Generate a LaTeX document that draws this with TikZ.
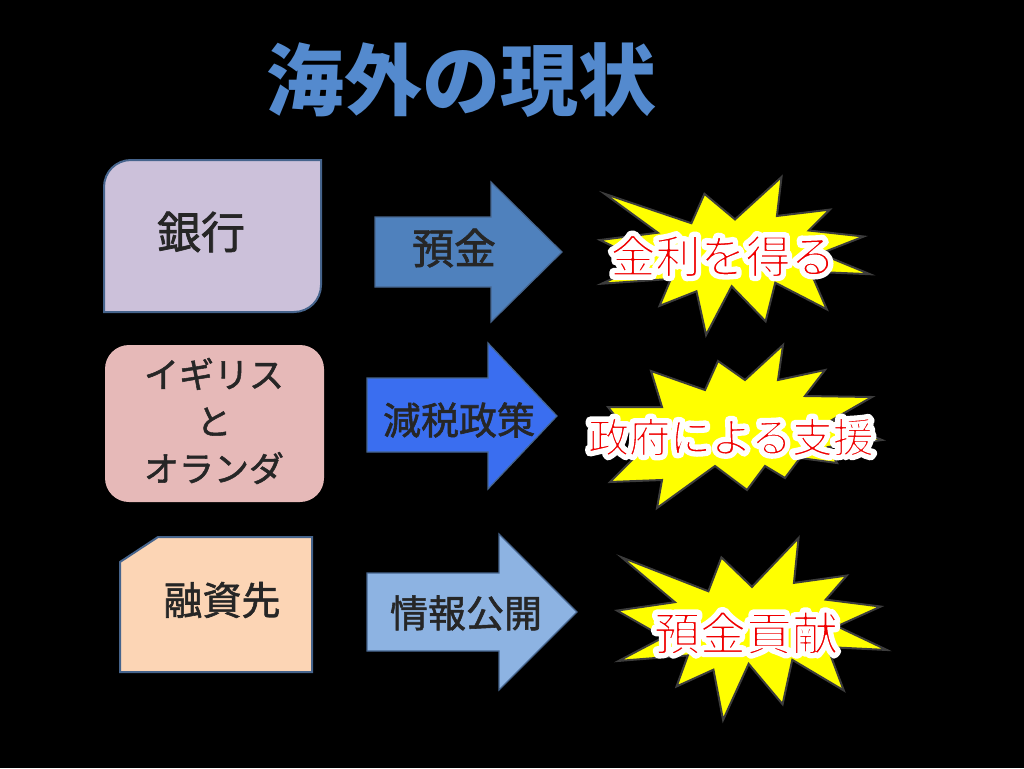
\documentclass[tikz,border=0pt]{standalone}
\usepackage{fontspec}
\setmainfont{Noto Sans CJK JP}
\newfontfamily\jp{Noto Sans CJK JP}
\newfontfamily\jpm[FakeBold=1.5]{Noto Sans CJK JP}
\definecolor{bgblack}{RGB}{0,0,0}
\definecolor{titleblue}{RGB}{84,138,206}
\definecolor{lavender}{RGB}{204,193,218}
\definecolor{pinkbox}{RGB}{230,185,184}
\definecolor{peach}{RGB}{252,213,181}
\definecolor{edgeblue}{RGB}{70,100,140}
\definecolor{arrowA}{RGB}{79,129,189}
\definecolor{arrowB}{RGB}{58,110,240}
\definecolor{arrowC}{RGB}{141,179,226}
\definecolor{starfill}{RGB}{255,255,0}
\definecolor{staredge}{RGB}{60,60,60}
\definecolor{darktext}{RGB}{38,38,38}
\definecolor{redtext}{RGB}{240,0,0}
\newcommand{\glowtext}[1]{\special{pdf:literal direct 2 Tr 1 j 9 w}#1\special{pdf:literal direct 0 Tr 1 w}}
\newcommand{\thinred}[1]{\special{pdf:literal direct 1 1 1 RG 2 Tr 1 j 1.6 w}#1\special{pdf:literal direct 0 Tr 1 w}}
\tikzset{
  boxedge/.style={draw=edgeblue, line width=2pt},
  arrowshape/.style={draw=edgeblue, line width=1.2pt},
  starshape/.style={fill=starfill, draw=staredge, line width=2pt, line join=miter},
  darklabel/.style={inner sep=0pt, text=darktext, font=\jpm\fontsize{40}{46}\selectfont},
  glowlabel/.style={inner sep=0pt, text=white, font=\jp\fontsize{#1}{#1}\selectfont},
  redlabel/.style={inner sep=0pt, text=redtext, font=\jp\fontsize{#1}{#1}\selectfont},
}
\begin{document}
\begin{tikzpicture}[x=1pt,y=-1pt]
\fill[bgblack] (0,0) rectangle (1024,768);
\useasboundingbox (0,0) rectangle (1024,768);

% title
\node[inner sep=0pt, text=titleblue, font=\jp\bfseries\fontsize{78}{78}\selectfont] (title) at (461,80) {海外の現状};

% left boxes
\filldraw[fill=lavender, boxedge] (104,187) .. controls (104,172) and (116,160) .. (131,160) -- (321,160) -- (321,285) .. controls (321,300) and (309,312) .. (294,312) -- (104,312) -- cycle;
\node[darklabel, font=\jpm\fontsize{44}{50}\selectfont] (bank) at (201,232) {銀行};

\fill[pinkbox, rounded corners=24pt] (105,345) rectangle (324,502);
\node[darklabel, font=\jpm\fontsize{35}{47}\selectfont, align=center] (country) at (214,421) {イギリス\\と\\オランダ};

\filldraw[fill=peach, boxedge] (120,562) -- (158,537) -- (312,537) -- (312,672) -- (120,672) -- cycle;
\node[darklabel, font=\jpm\fontsize{39}{45}\selectfont] (borrower) at (222,600) {融資先};

% arrows
\filldraw[fill=arrowA, arrowshape] (375,217) -- (491,217) -- (491,182) -- (562,252) -- (491,322) -- (491,287) -- (375,287) -- cycle;
\node[darklabel, font=\jpm\fontsize{42}{48}\selectfont] (deposit) at (454,248) {預金};

\filldraw[fill=arrowB, arrowshape] (367,378) -- (488,378) -- (488,343) -- (557,416) -- (488,489) -- (488,452) -- (367,452) -- cycle;
\node[darklabel, font=\jpm\fontsize{38}{44}\selectfont] (tax) at (459,420) {減税政策};

\filldraw[fill=arrowC, arrowshape] (367,573) -- (499,573) -- (499,534) -- (577,612) -- (499,690) -- (499,651) -- (367,651) -- cycle;
\node[darklabel, font=\jpm\fontsize{38}{44}\selectfont] (info) at (466,613) {情報公開};

% explosion 1
\begin{scope}[shift={(600,177)}, x=270pt, y=-158pt]
\filldraw[starshape] (0.5,0.2685) -- (0.6723,0) -- (0.6553,0.2465) -- (0.8509,0.2064) -- (0.7732,0.3386) -- (0.9767,0.3767) -- (0.8151,0.4850) -- (1,0.6153) -- (0.7795,0.5992) -- (0.8400,0.8377) -- (0.6491,0.6693) -- (0.6133,0.9137) -- (0.4876,0.6914) -- (0.3928,1) -- (0.3572,0.7235) -- (0.2205,0.8156) -- (0.2624,0.6452) -- (0.0063,0.6753) -- (0.1723,0.5451) -- (0,0.3988) -- (0.2142,0.3526) -- (0.0171,0.1063) -- (0.3385,0.2926) -- (0.3867,0.1063) -- cycle;
\end{scope}
% explosion 2
\filldraw[starshape] (651,371) -- (705,390) -- (718,361) -- (745,380) -- (783,345) -- (778,380) -- (825,370) -- (805,396) -- (872,397) -- (832,420) -- (882,440) -- (828,447) -- (837,463) -- (800,458) -- (785,478) -- (765,466) -- (747,490) -- (715,466) -- (657,508) -- (662,480) -- (610,482) -- (642,450) -- (608,407) -- (662,407) -- cycle;
% explosion 3
\begin{scope}[shift={(617,538)}, x=270pt, y=-182pt]
\filldraw[starshape] (0.5,0.2685) -- (0.6723,0) -- (0.6553,0.2465) -- (0.8509,0.2064) -- (0.7732,0.3386) -- (0.9767,0.3767) -- (0.8151,0.4850) -- (1,0.6153) -- (0.7795,0.5992) -- (0.8400,0.8377) -- (0.6491,0.6693) -- (0.6133,0.9137) -- (0.4876,0.6914) -- (0.3928,1) -- (0.3572,0.7235) -- (0.2205,0.8156) -- (0.2624,0.6452) -- (0.0063,0.6753) -- (0.1723,0.5451) -- (0,0.3988) -- (0.2142,0.3526) -- (0.0171,0.1063) -- (0.3385,0.2926) -- (0.3867,0.1063) -- cycle;
\end{scope}

% star labels
\node[glowlabel=45] (interestglow) at (723,256) {\glowtext{金利を得る}};
\node[redlabel=45] (interest) at (723,256) {\thinred{金利を得る}};
\node[glowlabel=41] (supportglow) at (731,437) {\glowtext{政府による支援}};
\node[redlabel=41] (support) at (731,437) {\thinred{政府による支援}};
\node[glowlabel=46] (contribglow) at (746,633) {\glowtext{預金貢献}};
\node[redlabel=46] (contrib) at (746,633) {\thinred{預金貢献}};
\end{tikzpicture}
\end{document}
